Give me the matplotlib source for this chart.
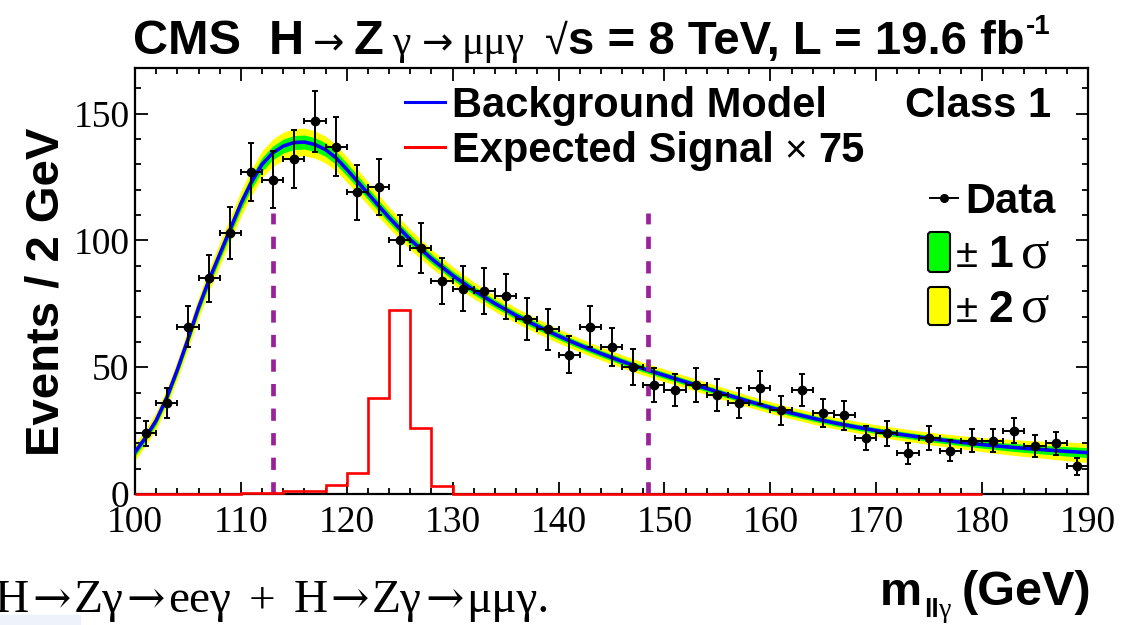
import numpy as np
import matplotlib
matplotlib.use('Agg')
import matplotlib.pyplot as plt
from matplotlib.transforms import IdentityTransform
from matplotlib.patches import FancyBboxPatch, Rectangle
from matplotlib.lines import Line2D
from matplotlib.ticker import MultipleLocator

SANS = ['Liberation Sans', 'DejaVu Sans']
SERIF = ['Liberation Serif', 'DejaVu Serif']
ARROW = ['DejaVu Sans']
plt.rcParams['font.family'] = SERIF

# observed events per 2 GeV bin
data_x = [101, 103, 105, 107, 109, 111, 113, 115, 117, 119, 121, 123, 125, 127, 129,
          131, 133, 135, 137, 139, 141, 143, 145, 147, 149, 151, 153, 155, 157, 159,
          161, 163, 165, 167, 169, 171, 173, 175, 177, 179, 181, 183, 185, 187, 189]
data_y = [24, 36, 66, 85, 103, 127, 124, 132, 147, 137, 119, 121, 100, 97, 84,
          81, 80, 78, 69, 65, 55, 66, 58, 50, 43, 41, 43, 39, 36, 42,
          33, 41, 32, 31, 22, 24, 16, 22, 17, 21, 21, 25, 19, 20, 11]

# background model fit and its 1 sigma half width
bkg_x = [100, 101, 102, 103, 104, 105, 106, 107, 108, 109, 110, 111, 112, 113, 114,
         115, 116, 117, 118, 119, 120, 121, 122, 123, 124, 126, 128, 130, 132, 134,
         136, 138, 140, 142, 144, 146, 148, 150, 152, 154, 156, 158, 160, 162, 164,
         166, 168, 170, 172, 174, 176, 178, 180, 182, 184, 186, 188, 190]
bkg_y = [16.5, 22.3, 29.0, 38.0, 49.0, 61.0, 73.5, 84.5, 94.5, 104.5, 114.5, 123.0, 130.0, 134.5, 137.2,
         138.6, 138.8, 137.8, 135.8, 132.5, 128.0, 123.3, 118.5, 113.7, 109.0, 100.3, 92.8, 86.2, 80.3, 75.1,
         70.4, 66.2, 62.3, 58.7, 55.4, 52.3, 49.4, 46.8, 44.2, 41.6, 39.0, 36.5, 34.1, 31.9, 29.9,
         28.1, 26.5, 25.0, 23.7, 22.5, 21.4, 20.4, 19.5, 18.7, 18.0, 17.4, 16.8, 16.3]
bkg_err = [1.6, 1.6, 1.7, 1.8, 1.9, 2.0, 2.1, 2.2, 2.3, 2.4, 2.5, 2.6, 2.7, 2.7, 2.75,
           2.75, 2.75, 2.7, 2.65, 2.6, 2.5, 2.4, 2.3, 2.2, 2.1, 2.0, 1.85, 1.75, 1.65, 1.55,
           1.5, 1.45, 1.4, 1.35, 1.3, 1.3, 1.25, 1.25, 1.2, 1.2, 1.2, 1.15, 1.15, 1.15, 1.15,
           1.15, 1.15, 1.15, 1.2, 1.2, 1.25, 1.3, 1.4, 1.5, 1.6, 1.7, 1.85, 1.95]

# expected signal x 75, 2 GeV bins from 100 to 180
sig_edges = list(range(100, 182, 2))
sig_vals = [0, 0, 0, 0, 0, 0.5, 0.5, 1.2, 1.2, 3.4, 8.4, 37.7, 72.5, 26.1, 3.1] + [0] * 25

# mass window edges
window_x = [113.0, 148.4]
window_top = 111

data_x = np.array(data_x)
data_y = np.array(data_y)
bkg_x = np.array(bkg_x)
bkg_y = np.array(bkg_y)
bkg_err = np.array(bkg_err)

fig = plt.figure(figsize=(11.22, 6.25), dpi=100)
ax = fig.add_axes([135 / 1122, 131 / 625, 953 / 1122, 426 / 625])

ax.fill_between(bkg_x, bkg_y - 2 * bkg_err, bkg_y + 2 * bkg_err, color='#ffff00', lw=0, zorder=1)
ax.fill_between(bkg_x, bkg_y - bkg_err, bkg_y + bkg_err, color='#00ff00', lw=0, zorder=2)
ax.plot(bkg_x, bkg_y, color='#0000ff', lw=2.6, zorder=3)
ax.vlines(window_x, 0, window_top, colors='#992299', linestyles=(0, (2.6, 2.6)), lw=3.4, zorder=4)
ax.stairs(sig_vals, sig_edges, color='#ff0000', lw=1.9, baseline=0, zorder=6, clip_on=False)
ax.errorbar(data_x, data_y, yerr=np.sqrt(data_y), xerr=1, fmt='o', color='black',
            ms=6, lw=1.4, capsize=2.5, capthick=1.4, zorder=5)

ax.set_xlim(100, 190)
ax.set_ylim(0, 168)
ax.xaxis.set_major_locator(MultipleLocator(10))
ax.xaxis.set_minor_locator(MultipleLocator(2))
ax.yaxis.set_major_locator(MultipleLocator(50))
ax.yaxis.set_minor_locator(MultipleLocator(10))
ax.tick_params(which='both', direction='in', top=True, right=True, width=1.3, labelsize=27)
ax.tick_params(which='major', length=9)
ax.tick_params(which='minor', length=4.5)
ax.tick_params(axis='x', pad=8)
ax.tick_params(axis='y', pad=4)
for s in ax.spines.values():
    s.set_linewidth(1.6)

r = fig.canvas.get_renderer()
T = IdentityTransform()


def put(x, y, s, **kw):
    return fig.text(x, y, s, transform=T, va='baseline', **kw)


def chain(x, y, parts):
    for s, kw, gap in parts:
        t = put(x, y, s, **kw)
        x = t.get_window_extent(r).x1 + gap
    return x


# header line
hb = dict(family=SANS, weight='bold', size=35)
sym = dict(family=SERIF, size=30)
arr = dict(family=ARROW, size=27)
end = chain(133, 571, [
    ('CMS', hb, 28), ('H', hb, 9), ('\u2192', arr, 9), ('Z', hb, 9),
    ('\u03b3', sym, 11), ('\u2192', arr, 9), ('\u03bc\u03bc\u03b3', sym, 20),
    ('\u221a', dict(family=SANS, size=30), 0), ('s = 8 TeV, L = 19.6 fb', dict(hb, size=34), 1)])
put(end, 591, '-1', family=SANS, weight='bold', size=20)

# legend block
leg = dict(family=SANS, weight='bold', size=30)
fig.add_artist(Line2D([405, 445], [523, 523], color='#0000ff', lw=2.2, transform=T))
fig.add_artist(Line2D([405, 445], [478, 478], color='#ff0000', lw=2.2, transform=T))
put(452, 508, 'Background Model', **leg)
chain(452, 463, [('Expected Signal', leg, 10), ('\u00d7', dict(family=SANS, size=28), 12), ('75', leg, 0)])
put(905, 508, 'Class 1', **leg)

fig.add_artist(Line2D([930, 958], [427, 427], color='black', lw=1.4, transform=T))
fig.add_artist(Line2D([944], [427], color='black', marker='o', ms=5.5, transform=T))
put(965, 412, 'Data', **leg)
fig.add_artist(FancyBboxPatch((928, 353), 22, 40, boxstyle='round,pad=0,rounding_size=3',
                              fc='#00ff00', ec='black', lw=1.5, transform=T))
fig.add_artist(FancyBboxPatch((928, 300), 22, 38, boxstyle='round,pad=0,rounding_size=3',
                              fc='#ffff00', ec='black', lw=1.5, transform=T))
pm = dict(family=SANS, size=29)
sig = dict(family=SERIF, size=38)
chain(956, 358, [('\u00b1', pm, 10), ('1', dict(leg, size=32), 8), ('\u03c3', sig, 0)])
chain(956, 303, [('\u00b1', pm, 10), ('2', dict(leg, size=32), 8), ('\u03c3', sig, 0)])

# axis titles
fig.text(47, 333, 'Events / 2 GeV', transform=T, rotation=90, ha='center', va='center',
         family=SANS, weight='bold', size=34)
end = chain(880, 20, [('m', dict(family=SANS, weight='bold', size=34), 2)])
end = chain(end, 8, [('ll', dict(family=SANS, weight='bold', size=19), 0),
                     ('\u03b3', dict(family=SERIF, size=20), 10)])
put(end, 20, '(GeV)', family=SANS, weight='bold', size=35)

# caption fragment
fig.add_artist(Rectangle((0, 0), 80, 10, color='#eef2fa', transform=T, zorder=0))
cap = dict(family=SERIF, size=34)
carr = dict(family=['DejaVu Serif'], size=33)
chain(-5, 13, [('H', cap, 3), ('\u2192', carr, 3), ('Z\u03b3', cap, 3), ('\u2192', carr, 3),
               ('ee\u03b3', cap, 18), ('+', cap, 18), ('H', cap, 3), ('\u2192', carr, 3),
               ('Z\u03b3', cap, 3), ('\u2192', carr, 3), ('\u03bc\u03bc\u03b3.', cap, 0)])

fig.savefig('out.png', dpi=100)
